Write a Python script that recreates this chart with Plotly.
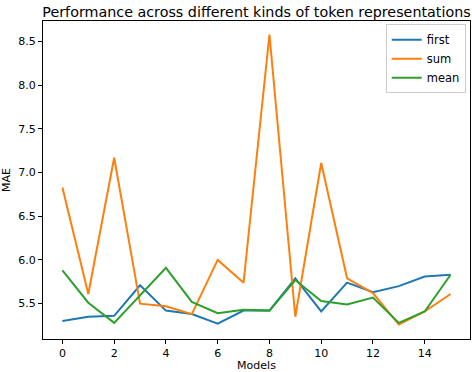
import plotly.graph_objects as go

models = list(range(16))
first = [5.30, 5.35, 5.36, 5.71, 5.42, 5.38, 5.27, 5.42, 5.42, 5.79, 5.41, 5.74, 5.63, 5.70, 5.81, 5.83]
sum_ = [6.83, 5.61, 7.17, 5.50, 5.47, 5.38, 6.00, 5.74, 8.58, 5.35, 7.11, 5.79, 5.62, 5.26, 5.41, 5.61]
mean = [5.88, 5.51, 5.28, 5.59, 5.91, 5.52, 5.39, 5.43, 5.42, 5.77, 5.53, 5.49, 5.57, 5.28, 5.41, 5.83]

series = [('first', first, '#1f77b4'), ('sum', sum_, '#ff7f0e'), ('mean', mean, '#2ca02c')]

FONT = 'DejaVu Sans'

fig = go.Figure()
for name, vals, col in series:
    fig.add_trace(go.Scatter(x=models, y=vals, mode='lines', name=name,
                             line=dict(color=col, width=2)))

axis_common = dict(showline=True, linecolor='black', linewidth=1, mirror=True,
                   ticks='outside', ticklen=4, tickcolor='black', showgrid=False,
                   zeroline=False, tickfont=dict(family=FONT, size=11, color='black'))

fig.update_layout(
    width=472, height=372,
    margin=dict(l=43, r=2, t=21, b=33, autoexpand=False),
    plot_bgcolor='white', paper_bgcolor='white',
    font=dict(family=FONT, color='black'),
    title=dict(text='Performance across different kinds of token representations',
               font=dict(family=FONT, size=14.3, color='black'),
               x=0.5, xref='paper', xanchor='center',
               y=1, yref='paper', yanchor='bottom', pad=dict(b=4)),
    xaxis=dict(range=[-0.75, 15.75], tick0=0, dtick=2,
               title=dict(text='Models', font=dict(family=FONT, size=11), standoff=10),
               **axis_common),
    yaxis=dict(range=[5.095, 8.735], tick0=5.5, dtick=0.5, tickformat='.1f',
               title=dict(text='MAE', font=dict(family=FONT, size=11), standoff=6),
               **axis_common),
    legend=dict(x=0.99, xanchor='right', y=0.99, yanchor='top',
                bordercolor='#cccccc', borderwidth=1, bgcolor='rgba(255,255,255,0.8)',
                font=dict(family=FONT, size=11.5), itemwidth=30, tracegroupgap=0),
    showlegend=True,
)

# drop the default 8px page margin so the figure sits flush in the window
fig.write_html('out.html', config={'displayModeBar': False},
               post_script="document.body.style.margin='0';")
